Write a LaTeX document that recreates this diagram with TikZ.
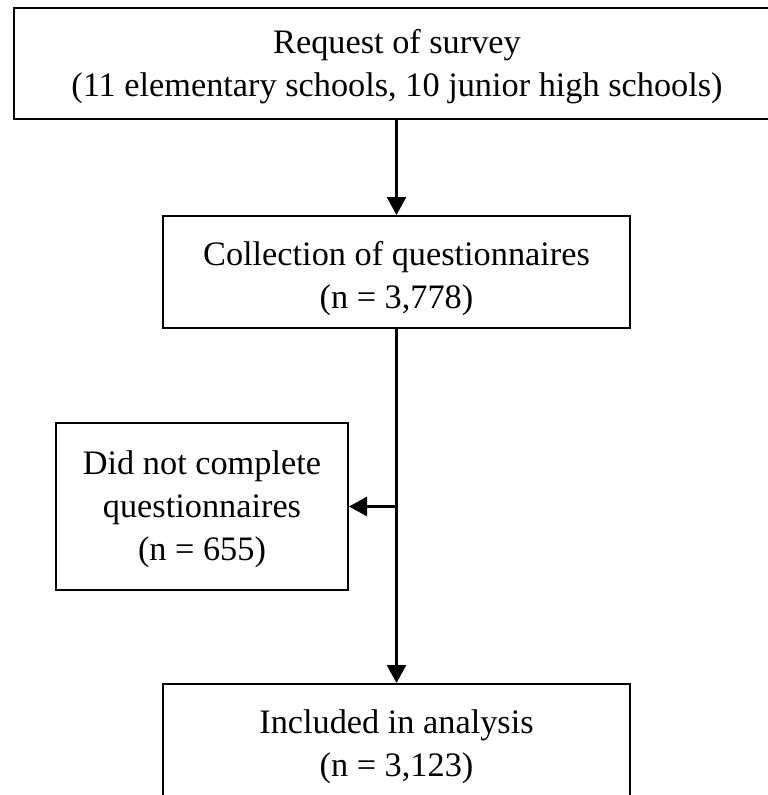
\documentclass[tikz,border=0pt]{standalone}
\usepackage{fontspec}
\setmainfont{Liberation Serif}
\usetikzlibrary{arrows.meta}
\begin{document}
\begin{tikzpicture}[x=1pt,y=1pt,
  box/.style={draw=black, line width=2pt, align=center, inner sep=0pt,
    font=\fontsize{34.3}{43}\selectfont},
  arr/.style={draw=black, line width=2.8pt, -{Triangle[width=19pt,length=18pt]}}]
\clip (0,0) rectangle (768,-795);
\fill[white] (0,0) rectangle (768,-795);
\node[box, minimum width=766pt, minimum height=111.5pt] (top) at (397,-63.5)
  {\rule{0pt}{29.5pt}Request of survey\\(11 elementary schools, 10 junior high schools)};
\node[box, minimum width=467pt, minimum height=112pt] (coll) at (396.5,-272)
  {\rule{0pt}{37pt}Collection of questionnaires\\(n = 3,778)};
\node[box, minimum width=292pt, minimum height=167pt] (excl) at (202,-506.5)
  {\rule{0pt}{29pt}Did not complete\\questionnaires\\(n = 655)};
\node[box, minimum width=467pt, minimum height=126pt] (incl) at (396.5,-747)
  {Included in analysis\\(n = 3,123)};
\coordinate (br) at (coll.south |- excl.east);
\draw[arr] (top.south -| coll.north) -- (coll.north);
\draw[arr] (coll.south) -- (incl.north);
\draw[arr] (br) -- (excl.east);
\end{tikzpicture}
\end{document}
